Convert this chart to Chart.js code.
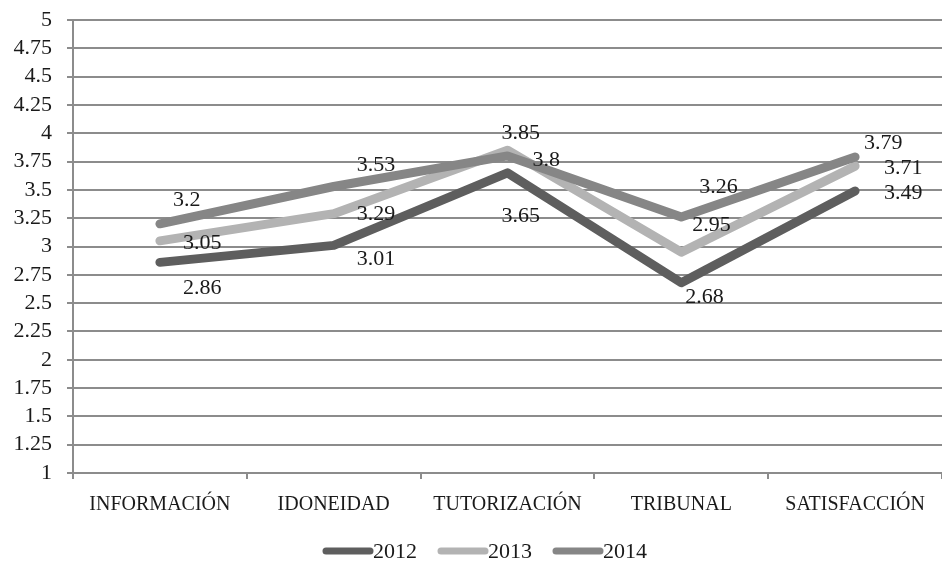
<!DOCTYPE html>
<html>
<head>
<meta charset="utf-8">
<script src="https://cdn.jsdelivr.net/npm/chart.js@4.4.1/dist/chart.umd.min.js"></script>
<style>
html,body{margin:0;padding:0;background:#fff;}
#wrap{width:942px;height:563px;position:relative;}
</style>
</head>
<body>
<div id="wrap"><canvas id="c" width="942" height="563"></canvas></div>
<script>
const categories = ["INFORMACIÓN", "IDONEIDAD", "TUTORIZACIÓN", "TRIBUNAL", "SATISFACCIÓN"];
const seriesNames = ["2012", "2013", "2014"];
const values2012 = [2.86, 3.01, 3.65, 2.68, 3.49];
const values2013 = [3.05, 3.29, 3.85, 2.95, 3.71];
const values2014 = [3.2, 3.53, 3.8, 3.26, 3.79];
const yTickLabels = ["1","1.25","1.5","1.75","2","2.25","2.5","2.75","3","3.25","3.5","3.75","4","4.25","4.5","4.75","5"];

const colors = ["#5e5e5e", "#b3b3b3", "#868686"];
// label offsets (px) relative to each point: [dx, dy]
const labelOffsets = [
  [[23,26],[23,14],[-6,43],[4,14],[29,2]],
  [[23,2],[23,1],[-6,-17],[11,-27],[29,2]],
  [[13,-24],[23,-21],[25,4],[18,-30],[9,-14]]
];
const FONT = "'Liberation Serif', 'Times New Roman', serif";

const dataLabels = {
  id: 'dataLabels',
  afterDatasetsDraw(chart) {
    const ctx = chart.ctx;
    ctx.save();
    ctx.font = "22px " + FONT;
    ctx.fillStyle = "#1a1a1a";
    ctx.textAlign = "left";
    ctx.textBaseline = "middle";
    chart.data.datasets.forEach((ds, i) => {
      const meta = chart.getDatasetMeta(i);
      meta.data.forEach((pt, j) => {
        const off = labelOffsets[i][j];
        ctx.fillText(String(ds.data[j]), pt.x + off[0], pt.y + off[1]);
      });
    });
    ctx.restore();
  }
};

const customLegend = {
  id: 'customLegend',
  afterDraw(chart) {
    const ctx = chart.ctx;
    ctx.save();
    ctx.font = "22px " + FONT;
    ctx.textBaseline = "middle";
    ctx.fillStyle = "#1a1a1a";
    let x = 323;
    const y = 551;
    chart.data.datasets.forEach((ds, i) => {
      ctx.strokeStyle = ds.borderColor;
      ctx.lineWidth = 7;
      ctx.lineCap = "round";
      ctx.beginPath();
      ctx.moveTo(x + 3, y);
      ctx.lineTo(x + 47, y);
      ctx.stroke();
      x += 50;
      ctx.fillText(ds.label, x, y + 1);
      x += ctx.measureText(ds.label).width + 21;
    });
    ctx.restore();
  }
};

new Chart(document.getElementById('c'), {
  type: 'line',
  data: {
    labels: categories,
    datasets: [
      {label: seriesNames[0], data: values2012, borderColor: colors[0], order: 3},
      {label: seriesNames[1], data: values2013, borderColor: colors[1], order: 2},
      {label: seriesNames[2], data: values2014, borderColor: colors[2], order: 1}
    ].map(d => Object.assign(d, {
      backgroundColor: d.borderColor,
      borderWidth: 9,
      pointRadius: 0,
      pointHoverRadius: 0,
      tension: 0,
      borderCapStyle: 'round',
      borderJoinStyle: 'round',
      fill: false
    }))
  },
  options: {
    responsive: false,
    animation: false,
    devicePixelRatio: 1,
    layout: {padding: {top: 20, right: 0, bottom: 0, left: 0}},
    plugins: {legend: {display: false}, tooltip: {enabled: false}},
    scales: {
      x: {
        offset: true,
        grid: {offset: true, drawOnChartArea: false, drawTicks: true, tickLength: 6, color: '#8c8c8c', lineWidth: 2},
        border: {color: '#8c8c8c', width: 2},
        ticks: {font: {family: FONT, size: 20}, color: '#1a1a1a', padding: 14, maxRotation: 0, autoSkip: false},
        afterFit(s) { s.height = 90; s.paddingLeft = 0; s.paddingRight = 0; }
      },
      y: {
        min: 1, max: 5,
        afterBuildTicks(s) { s.ticks = yTickLabels.map(t => ({value: parseFloat(t)})); },
        ticks: {
          font: {family: FONT, size: 22}, color: '#1a1a1a', padding: 15, autoSkip: false,
          callback: (v, i) => yTickLabels[i]
        },
        grid: {color: '#8c8c8c', lineWidth: 2, tickLength: 6, drawTicks: true},
        border: {color: '#8c8c8c', width: 2},
        afterFit(s) { s.width = 73; s.paddingTop = 0; s.paddingBottom = 0; }
      }
    }
  },
  plugins: [dataLabels, customLegend]
});
</script>
</body>
</html>
